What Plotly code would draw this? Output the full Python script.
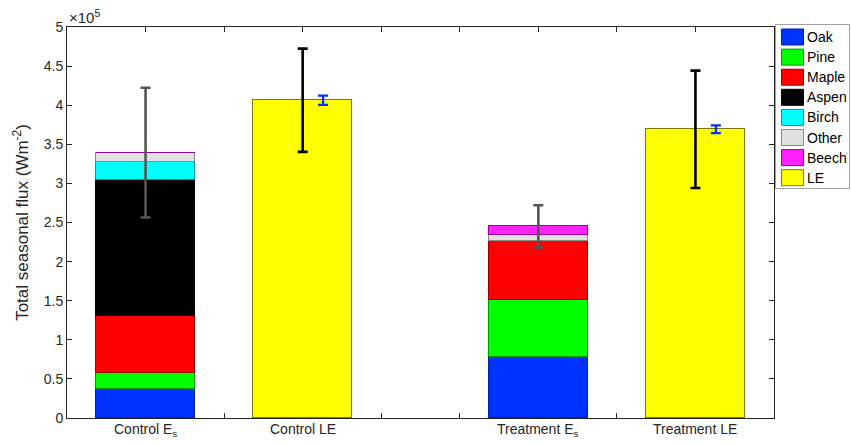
import plotly.graph_objects as go

# ---- data ----
group_labels = ["Control E<sub>s</sub>", "Control LE", "Treatment E<sub>s</sub>", "Treatment LE"]
group_pos = [2, 4, 7, 9]
es_pos = [2, 7]
le_pos = [4, 9]

species = ["Oak", "Pine", "Maple", "Aspen", "Birch", "Other", "Beech"]
species_colors = ["#0033ff", "#00ff00", "#ff0000", "#000000", "#00ffff", "#e0e0e0", "#ff22ff"]
species_edges = ["#00229a", "#009900", "#990000", "#000000", "#009999", "#8a8a8a", "#990099"]

control_es = [36700, 20500, 73200, 173900, 22700, 12300, 0]
treatment_es = [78400, 72900, 75400, 0, 0, 7700, 10700]

le_values = [406300, 369200]
es_err = [83000, 27000]
le_err = [66000, 75000]
le_small_err = [6000, 5000]

ytick_vals = [0, 50000, 100000, 150000, 200000, 250000, 300000, 350000, 400000, 450000, 500000]
ytick_text = ["0", "0.5", "1", "1.5", "2", "2.5", "3", "3.5", "4", "4.5", "5"]

FONT = "Liberation Sans, Arial, Helvetica, sans-serif"
TXT = "#262626"
BAR_W = 1.26

W, H = 851, 444
ML, MR, MT, MB = 67, 77, 27, 26
PW, PH = W - ML - MR, H - MT - MB


def px_x(px):
    return (px - ML) / PW


def px_y(py):
    return (H - MB - py) / PH


fig = go.Figure()

for i, name in enumerate(species):
    fig.add_trace(go.Bar(
        x=es_pos, y=[control_es[i], treatment_es[i]], name=name, width=BAR_W, showlegend=False,
        marker=dict(color=species_colors[i], line=dict(color=species_edges[i], width=1)),
    ))

fig.add_trace(go.Bar(
    x=le_pos, y=le_values, name="LE", width=BAR_W, showlegend=False,
    marker=dict(color="#ffff00", line=dict(color="#7a7a00", width=1)),
))

es_totals = [sum(control_es), sum(treatment_es)]
fig.add_trace(go.Scatter(
    x=es_pos, y=es_totals, mode="markers", marker=dict(opacity=0), showlegend=False,
    hoverinfo="skip",
    error_y=dict(type="data", array=es_err, color="#555555", thickness=2.6, width=5),
))
fig.add_trace(go.Scatter(
    x=le_pos, y=le_values, mode="markers", marker=dict(opacity=0), showlegend=False,
    hoverinfo="skip",
    error_y=dict(type="data", array=le_err, color="#000000", thickness=2.6, width=5),
))
fig.add_trace(go.Scatter(
    x=[p + 0.26 for p in le_pos], y=le_values, mode="markers", marker=dict(opacity=0),
    showlegend=False, hoverinfo="skip",
    error_y=dict(type="data", array=le_small_err, color="#0033ff", thickness=2.2, width=5),
))

for lbl, p in zip(group_labels, group_pos):
    fig.add_annotation(x=p, y=0, xref="x", yref="paper", text=lbl, showarrow=False,
                       yanchor="top", yshift=-1, font=dict(family=FONT, size=14, color=TXT))

fig.add_annotation(x=0, y=1, xref="paper", yref="paper", text="×10<sup>5</sup>", showarrow=False,
                   xanchor="left", yanchor="bottom", yshift=-1,
                   font=dict(family=FONT, size=15, color=TXT))

# ---- legend drawn as shapes + text ----
legend_names = species + ["LE"]
legend_colors = species_colors + ["#ffff00"]
legend_edges = species_edges + ["#7a7a00"]
shapes = [dict(type="rect", xref="paper", yref="paper",
               x0=px_x(775.5), x1=px_x(849.5), y0=px_y(188.5), y1=px_y(24.5),
               line=dict(color="#a0a0a0", width=1), fillcolor="white", layer="above")]
for k, (nm, c, e) in enumerate(zip(legend_names, legend_colors, legend_edges)):
    cy = 37 + k * 20.1
    shapes.append(dict(type="rect", xref="paper", yref="paper",
                       x0=px_x(781.5), x1=px_x(803.5), y0=px_y(cy + 8), y1=px_y(cy - 8),
                       line=dict(color=e, width=1), fillcolor=c, layer="above"))
    fig.add_annotation(x=px_x(805), y=px_y(cy), xref="paper", yref="paper", text=nm,
                       showarrow=False, xanchor="left", yanchor="middle",
                       font=dict(family=FONT, size=14, color="#000000"))

fig.update_layout(
    width=W, height=H,
    margin=dict(l=ML, r=MR, t=MT, b=MB, autoexpand=False),
    barmode="stack",
    bargap=0,
    showlegend=False,
    shapes=shapes,
    plot_bgcolor="white", paper_bgcolor="white",
    font=dict(family=FONT, size=14, color=TXT),
    xaxis=dict(range=[1, 10], tickvals=[2, 3, 4, 5, 6, 7, 8, 9], ticks="inside", ticklen=5,
               tickcolor=TXT, showticklabels=False, showline=True, linecolor=TXT,
               linewidth=1, mirror="ticks", showgrid=False, zeroline=False, layer="below traces"),
    yaxis=dict(range=[0, 500000], tickvals=ytick_vals, ticktext=ytick_text, ticks="inside",
               ticklen=5, tickcolor=TXT, showline=True, linecolor=TXT, linewidth=1,
               mirror="ticks", showgrid=False, zeroline=False,
               title=dict(text="Total seasonal flux (Wm<sup>-2</sup>)", standoff=10,
                          font=dict(family=FONT, size=17, color=TXT)),
               tickfont=dict(family=FONT, size=14, color=TXT)),
)

fig.write_html("out.html", config={"displayModeBar": False},
               post_script="document.body.style.margin='0';")
